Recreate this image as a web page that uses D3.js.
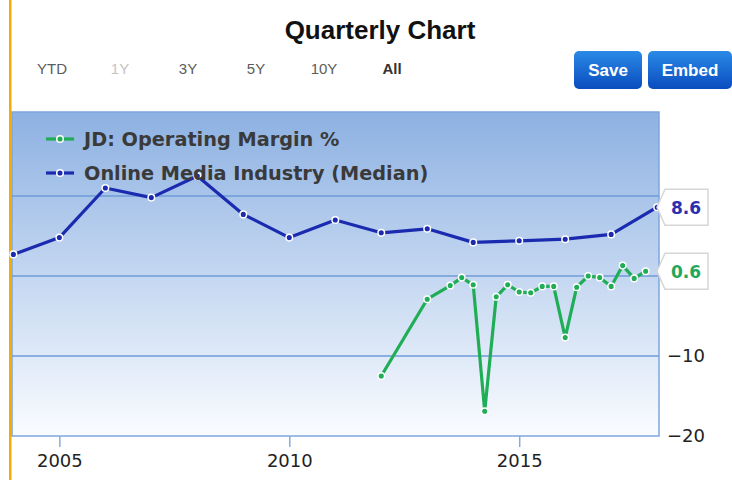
<!DOCTYPE html>
<html lang="en">
  <head>
    <meta charset="UTF-8" />
    <title>Quarterly Chart</title>
    <script src="https://d3js.org/d3.v7.min.js"></script>
    <style>
      body {
        margin: 0;
        background: #fff;
      }
      svg {
        display: block;
      }
    </style>
  </head>
  <body>
    <svg id="chart" width="732" height="480"></svg>

    <script>
      // industry median, yearly
      const industryYears = [
        2004, 2005, 2006, 2007, 2008, 2009, 2010, 2011, 2012, 2013, 2014, 2015,
        2016, 2017, 2018,
      ];
      const industryValues = [
        2.7, 4.8, 11.0, 9.8, 12.5, 7.7, 4.8, 7.0, 5.4, 5.9, 4.2, 4.4, 4.6, 5.2,
        8.6,
      ];

      // JD operating margin, quarterly
      const jdDates = [
        2012.0, 2013.0, 2013.5, 2013.75, 2014.0, 2014.25, 2014.5, 2014.75,
        2015.0, 2015.25, 2015.5, 2015.75, 2016.0, 2016.25, 2016.5, 2016.75,
        2017.0, 2017.25, 2017.5, 2017.75,
      ];
      const jdValues = [
        -12.5, -2.9, -1.2, -0.2, -1.1, -16.9, -2.6, -1.1, -2.0, -2.1, -1.3,
        -1.3, -7.7, -1.4, 0.0, -0.2, -1.3, 1.3, -0.3, 0.6,
      ];

      const seriesNames = ["JD: Operating Margin %", "Online Media Industry (Median)"];
      const seriesColors = ["#1fad55", "#1b2bb0"];
      const xTicks = [2005, 2010, 2015];
      const gridTicks = [-10, 0, 10];
      const yTickLabels = [-20, -10]; // 0 and 10 sit under the value flags
      const rangeLabels = ["YTD", "1Y", "3Y", "5Y", "10Y", "All"];

      const svg = d3.select("#chart");
      const plot = { left: 12, right: 659, top: 112, bottom: 436 };

      const x = d3
        .scaleLinear()
        .domain([2003.97, 2018.04])
        .range([plot.left, plot.right]);
      const y = d3
        .scaleLinear()
        .domain([-20, 20.5])
        .range([plot.bottom, plot.top]);

      const defs = svg.append("defs");
      const grad = defs
        .append("linearGradient")
        .attr("id", "bg")
        .attr("x1", 0)
        .attr("y1", 0)
        .attr("x2", 0)
        .attr("y2", 1);
      grad.append("stop").attr("offset", "0%").attr("stop-color", "#8db1e2");
      grad.append("stop").attr("offset", "100%").attr("stop-color", "#fafcff");

      const btnGrad = defs
        .append("linearGradient")
        .attr("id", "btn")
        .attr("x1", 0)
        .attr("y1", 0)
        .attr("x2", 0)
        .attr("y2", 1);
      btnGrad.append("stop").attr("offset", "0%").attr("stop-color", "#2a8ae6");
      btnGrad.append("stop").attr("offset", "100%").attr("stop-color", "#0a4cbf");

      // orange edge
      svg
        .append("rect")
        .attr("x", 9)
        .attr("y", 0)
        .attr("width", 2.5)
        .attr("height", 480)
        .attr("fill", "#f5ab00");

      // title
      svg
        .append("text")
        .attr("x", 380)
        .attr("y", 39)
        .attr("text-anchor", "middle")
        .attr("font-family", "Liberation Sans, Arial, sans-serif")
        .attr("font-weight", "bold")
        .attr("font-size", 26)
        .attr("fill", "#111")
        .text("Quarterly Chart");

      // range selector
      const rangeX = d3
        .scalePoint()
        .domain(rangeLabels)
        .range([52, 392]);
      svg
        .selectAll(".range")
        .data(rangeLabels)
        .enter()
        .append("text")
        .attr("class", "range")
        .attr("x", (d) => rangeX(d))
        .attr("y", 74)
        .attr("text-anchor", "middle")
        .attr("font-family", "Liberation Sans Narrow, Liberation Sans, sans-serif")
        .attr("font-size", 15)
        .attr("font-weight", (d) => (d === "All" ? "bold" : "normal"))
        .attr("fill", (d) => (d === "1Y" ? "#c4c4c4" : d === "All" ? "#333" : "#5c5c5c"))
        .text((d) => d);

      // buttons
      const buttons = [
        { label: "Save", x: 574, w: 68 },
        { label: "Embed", x: 648, w: 84 },
      ];
      const bg = svg
        .selectAll(".btn")
        .data(buttons)
        .enter()
        .append("g")
        .attr("class", "btn");
      bg.append("rect")
        .attr("x", (d) => d.x)
        .attr("y", 51)
        .attr("width", (d) => d.w)
        .attr("height", 38)
        .attr("rx", 5)
        .attr("fill", "url(#btn)");
      bg.append("text")
        .attr("x", (d) => d.x + d.w / 2)
        .attr("y", 76)
        .attr("text-anchor", "middle")
        .attr("font-family", "Liberation Sans Narrow, Liberation Sans, sans-serif")
        .attr("font-weight", "bold")
        .attr("font-size", 17)
        .attr("fill", "#fff")
        .text((d) => d.label);

      // plot background
      svg
        .append("rect")
        .attr("x", plot.left)
        .attr("y", plot.top)
        .attr("width", plot.right - plot.left)
        .attr("height", plot.bottom - plot.top)
        .attr("fill", "url(#bg)")
        .attr("stroke", "#7ea6dd")
        .attr("stroke-width", 1.5);

      // gridlines
      svg
        .selectAll(".grid")
        .data(gridTicks)
        .enter()
        .append("line")
        .attr("class", "grid")
        .attr("x1", plot.left)
        .attr("x2", plot.right)
        .attr("y1", (d) => y(d))
        .attr("y2", (d) => y(d))
        .attr("stroke", "#6f9bd9")
        .attr("stroke-width", 1.5);

      // x axis
      const xAxis = svg
        .append("g")
        .attr("transform", `translate(0,${plot.bottom})`)
        .call(d3.axisBottom(x).tickValues(xTicks).tickFormat(d3.format("d")).tickSize(11).tickPadding(7));
      xAxis.select(".domain").remove();
      xAxis.selectAll("line").attr("stroke", "#86acdf").attr("stroke-width", 1.5);
      xAxis
        .selectAll("text")
        .attr("font-family", "DejaVu Sans, sans-serif")
        .attr("font-size", 18)
        .attr("fill", "#222");

      // y axis (right)
      const yAxis = svg
        .append("g")
        .attr("transform", `translate(${plot.right},0)`)
        .call(d3.axisRight(y).tickValues(yTickLabels).tickFormat((d) => d3.format("d")(d).replace("-", "\u2212")).tickSize(0).tickPadding(8));
      yAxis.select(".domain").remove();
      yAxis
        .selectAll("text")
        .attr("font-family", "DejaVu Sans, sans-serif")
        .attr("font-size", 18)
        .attr("fill", "#222");

      // lines
      const line = d3
        .line()
        .x((d) => x(d[0]))
        .y((d) => y(d[1]));
      const industry = industryYears.map((d, i) => [d, industryValues[i]]);
      const jd = jdDates.map((d, i) => [d, jdValues[i]]);

      [
        { data: industry, color: seriesColors[1] },
        { data: jd, color: seriesColors[0] },
      ].forEach((s) => {
        svg
          .append("path")
          .datum(s.data)
          .attr("d", line)
          .attr("fill", "none")
          .attr("stroke", s.color)
          .attr("stroke-width", 3.2)
          .attr("stroke-linejoin", "round");
        svg
          .append("g")
          .selectAll("circle")
          .data(s.data)
          .enter()
          .append("circle")
          .attr("cx", (d) => x(d[0]))
          .attr("cy", (d) => y(d[1]))
          .attr("r", 3.3)
          .attr("fill", s.color)
          .attr("stroke", "#fff")
          .attr("stroke-width", 1.5);
      });

      // legend
      const legend = svg
        .selectAll(".legend")
        .data(seriesNames)
        .enter()
        .append("g")
        .attr("class", "legend")
        .attr("transform", (d, i) => `translate(46,${139 + i * 34})`);
      legend
        .append("line")
        .attr("x1", 0)
        .attr("x2", 28)
        .attr("stroke", (d, i) => seriesColors[i])
        .attr("stroke-width", 3.2);
      legend
        .append("circle")
        .attr("cx", 14)
        .attr("r", 3.3)
        .attr("fill", (d, i) => seriesColors[i])
        .attr("stroke", "#fff")
        .attr("stroke-width", 1.5);
      legend
        .append("text")
        .attr("x", 38)
        .attr("y", 7)
        .attr("font-family", "DejaVu Sans, sans-serif")
        .attr("font-weight", "bold")
        .attr("font-size", 19.3)
        .attr("fill", "#3a3a3a")
        .text((d) => d);

      // last-value flags
      const flags = [
        { value: industryValues[industryValues.length - 1], color: "#2a2fae" },
        { value: jdValues[jdValues.length - 1], color: "#1fa85b" },
      ];
      flags.forEach((f) => {
        const cy = y(f.value);
        const g = svg.append("g").attr("transform", `translate(657,${cy})`);
        g.append("path")
          .attr("d", "M0,0 L8,-18 L51,-18 L51,18 L8,18 Z")
          .attr("fill", "#fff")
          .attr("stroke", "#d6d6d6")
          .attr("stroke-width", 1.5);
        g.append("text")
          .attr("x", 29)
          .attr("y", 6.5)
          .attr("text-anchor", "middle")
          .attr("font-family", "DejaVu Sans, sans-serif")
          .attr("font-weight", "bold")
          .attr("font-size", 17)
          .attr("fill", f.color)
          .text(d3.format(".1f")(f.value));
      });
    </script>
  </body>
</html>
